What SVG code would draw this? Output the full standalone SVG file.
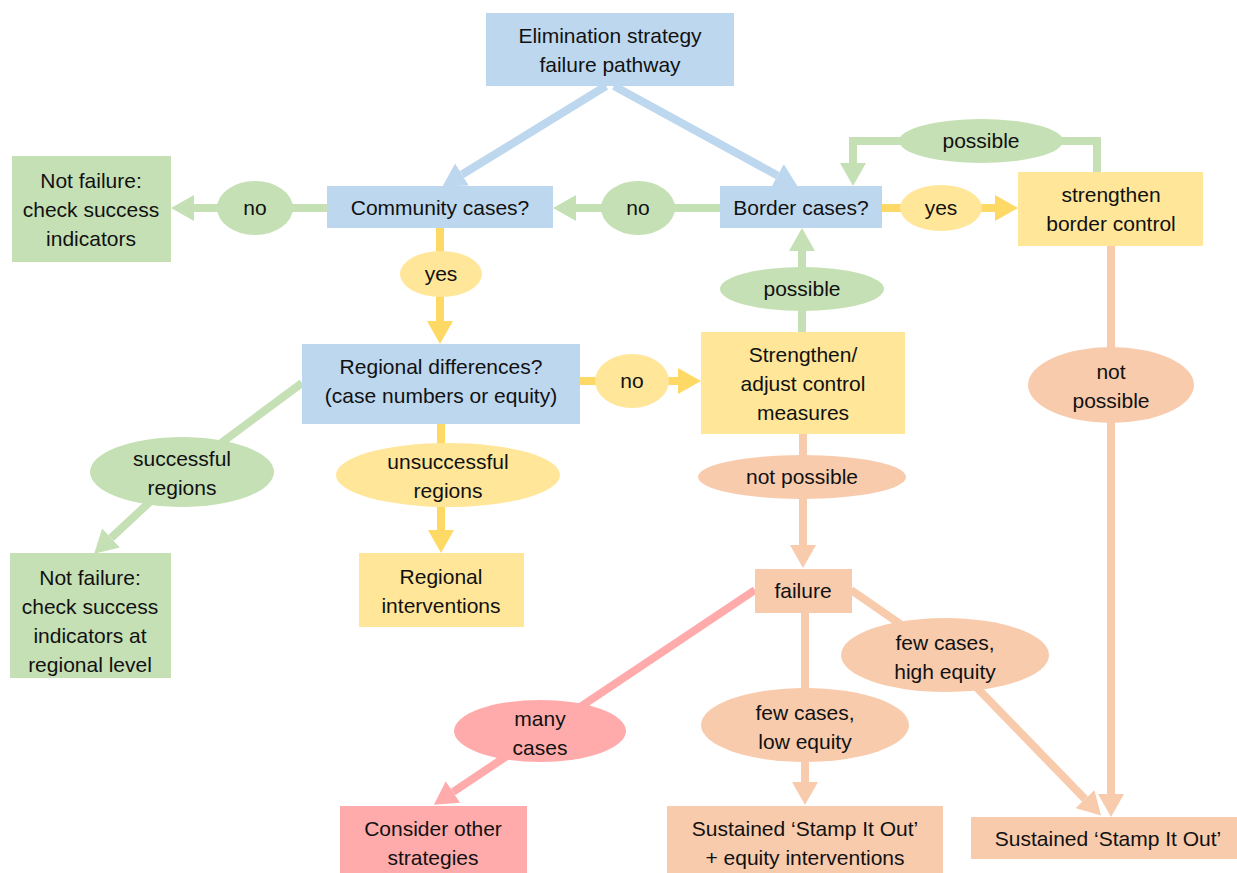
<svg xmlns="http://www.w3.org/2000/svg" width="1237" height="873" viewBox="0 0 1237 873">
<style>
text{font-family:"Liberation Sans",Arial,sans-serif;font-size:21px;fill:#111;text-anchor:middle;dominant-baseline:central}
.blue{fill:#BDD7EE}.green{fill:#C5E0B4}.yellow{fill:#FFE699}.salmon{fill:#F8CBAD}.pink{fill:#FFABAB}
.c{fill:none;stroke-width:8;stroke-linejoin:miter}
.cb{stroke:#BDD7EE}.cg{stroke:#C5E0B4}.cy{stroke:#FFD966}.cs{stroke:#F8CBAD}.cp{stroke:#FFABAB}
</style>
<defs>
<marker id="ab" markerUnits="userSpaceOnUse" markerWidth="24" markerHeight="26" refX="0" refY="13" orient="auto"><path d="M0,0 L23,13 L0,26 z" fill="#BDD7EE"/></marker>
<marker id="ag" markerUnits="userSpaceOnUse" markerWidth="24" markerHeight="26" refX="0" refY="13" orient="auto"><path d="M0,0 L23,13 L0,26 z" fill="#C5E0B4"/></marker>
<marker id="ay" markerUnits="userSpaceOnUse" markerWidth="24" markerHeight="26" refX="0" refY="13" orient="auto"><path d="M0,0 L23,13 L0,26 z" fill="#FFD966"/></marker>
<marker id="as" markerUnits="userSpaceOnUse" markerWidth="24" markerHeight="26" refX="0" refY="13" orient="auto"><path d="M0,0 L23,13 L0,26 z" fill="#F8CBAD"/></marker>
<marker id="ap" markerUnits="userSpaceOnUse" markerWidth="24" markerHeight="26" refX="0" refY="13" orient="auto"><path d="M0,0 L23,13 L0,26 z" fill="#FFABAB"/></marker>
</defs>
<rect width="1237" height="873" fill="#fff"/>
<g id="connectors">
<path class="c cb" d="M606,86 L462,174.5" marker-end="url(#ab)"/>
<path class="c cb" d="M614,86 L777.5,175.5" marker-end="url(#ab)"/>
<path class="c cg" d="M327,208 H194" marker-end="url(#ag)"/>
<path class="c cg" d="M720,208 H576" marker-end="url(#ag)"/>
<path class="c cy" d="M882,208 H995" marker-end="url(#ay)"/>
<path class="c cg" d="M1097,172 V141 H853 V163" marker-end="url(#ag)"/>
<path class="c cy" d="M440,228 V321" marker-end="url(#ay)"/>
<path class="c cy" d="M580,381 H678" marker-end="url(#ay)"/>
<path class="c cg" d="M802,332 V251" marker-end="url(#ag)"/>
<path class="c cs" d="M1111,246 V794" marker-end="url(#as)"/>
<path class="c cg" d="M302,383 L182,472 L111,538" marker-end="url(#ag)"/>
<path class="c cy" d="M441,424 V530" marker-end="url(#ay)"/>
<path class="c cs" d="M803,434 V545" marker-end="url(#as)"/>
<path class="c cp" d="M755,590 L453,792" marker-end="url(#ap)"/>
<path class="c cs" d="M805,612 V782" marker-end="url(#as)"/>
<path class="c cs" d="M851,590 L945,655 L1085,799" marker-end="url(#as)"/>
</g>
<g id="elimination"><rect class="blue" x="486" y="13" width="248" height="73"/><text x="610" y="35">Elimination strategy</text><text x="610" y="64">failure pathway</text></g>
<g id="community"><rect class="blue" x="327" y="186" width="226" height="42"/><text x="440" y="207">Community cases?</text></g>
<g id="border"><rect class="blue" x="720" y="186" width="162" height="42"/><text x="801" y="207">Border cases?</text></g>
<g id="notfailure1"><rect class="green" x="12" y="156" width="159" height="106"/><text x="91" y="180">Not failure:</text><text x="91" y="209">check success</text><text x="91" y="238">indicators</text></g>
<g id="strengthenborder"><rect class="yellow" x="1018" y="172" width="185" height="74"/><text x="1111" y="194">strengthen</text><text x="1111" y="223">border control</text></g>
<g id="regional"><rect class="blue" x="302" y="344" width="278" height="80"/><text x="441" y="366">Regional differences?</text><text x="441" y="395">(case numbers or equity)</text></g>
<g id="strengthenadjust"><rect class="yellow" x="701" y="332" width="204" height="102"/><text x="803" y="354">Strengthen/</text><text x="803" y="383">adjust control</text><text x="803" y="412">measures</text></g>
<g id="regionalinterventions"><rect class="yellow" x="359" y="553" width="165" height="74"/><text x="441" y="576">Regional</text><text x="441" y="605">interventions</text></g>
<g id="notfailure2"><rect class="green" x="10" y="553" width="161" height="125"/><text x="90" y="577">Not failure:</text><text x="90" y="606">check success</text><text x="90" y="635">indicators at</text><text x="90" y="664">regional level</text></g>
<g id="failure"><rect class="salmon" x="755" y="569" width="97" height="44"/><text x="803" y="590">failure</text></g>
<g id="consider"><rect class="pink" x="340" y="806" width="187" height="67"/><text x="433" y="828">Consider other</text><text x="433" y="857">strategies</text></g>
<g id="sustainedequity"><rect class="salmon" x="667" y="806" width="276" height="67"/><text x="805" y="828">Sustained ‘Stamp It Out’</text><text x="805" y="857">+ equity interventions</text></g>
<g id="sustained"><rect class="salmon" x="971" y="817" width="266" height="42"/><text x="1108" y="838">Sustained ‘Stamp It Out’</text></g>
<g id="label-no1"><ellipse class="green" cx="255" cy="208" rx="38" ry="27"/><text x="255" y="207">no</text></g>
<g id="label-no2"><ellipse class="green" cx="638" cy="208" rx="37" ry="27"/><text x="638" y="207">no</text></g>
<g id="label-yes1"><ellipse class="yellow" cx="941" cy="208" rx="41" ry="23"/><text x="941" y="207">yes</text></g>
<g id="label-possible1"><ellipse class="green" cx="981" cy="141" rx="82" ry="22"/><text x="981" y="140">possible</text></g>
<g id="label-yes2"><ellipse class="yellow" cx="441" cy="274" rx="41" ry="23"/><text x="441" y="273">yes</text></g>
<g id="label-possible2"><ellipse class="green" cx="802" cy="289" rx="82" ry="22"/><text x="802" y="288">possible</text></g>
<g id="label-no3"><ellipse class="yellow" cx="632" cy="381" rx="37" ry="27"/><text x="632" y="380">no</text></g>
<g id="label-notpossible1"><ellipse class="salmon" cx="1111" cy="385" rx="83" ry="38"/><text x="1111" y="371">not</text><text x="1111" y="400">possible</text></g>
<g id="label-successful"><ellipse class="green" cx="182" cy="472" rx="92" ry="35"/><text x="182" y="458">successful</text><text x="182" y="487">regions</text></g>
<g id="label-unsuccessful"><ellipse class="yellow" cx="448" cy="475" rx="112" ry="32"/><text x="448" y="461">unsuccessful</text><text x="448" y="490">regions</text></g>
<g id="label-notpossible2"><ellipse class="salmon" cx="802" cy="477" rx="104" ry="22"/><text x="802" y="476">not possible</text></g>
<g id="label-highequity"><ellipse class="salmon" cx="945" cy="655" rx="104" ry="37"/><text x="945" y="642">few cases,</text><text x="945" y="671">high equity</text></g>
<g id="label-lowequity"><ellipse class="salmon" cx="805" cy="725" rx="104" ry="37"/><text x="805" y="712">few cases,</text><text x="805" y="741">low equity</text></g>
<g id="label-many"><ellipse class="pink" cx="540" cy="731" rx="86" ry="31"/><text x="540" y="718">many</text><text x="540" y="747">cases</text></g>
</svg>
